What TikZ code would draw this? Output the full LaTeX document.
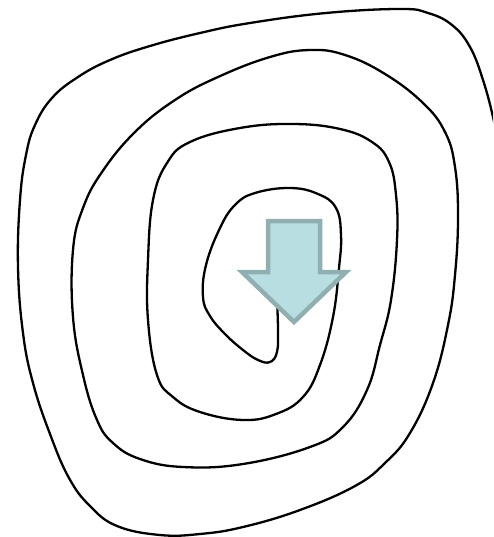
\documentclass[tikz,border=0pt]{standalone}
\definecolor{arrowfill}{HTML}{B9DEE1}
\definecolor{arrowedge}{HTML}{8FAFB1}
\begin{document}
\begin{tikzpicture}[x=1pt,y=-1pt,
  spiralline/.style={line width=2.3pt,line join=round},
  arrowbox/.style={fill=arrowfill,draw=arrowedge,line width=4.5pt,line join=miter}]
  \useasboundingbox (0,0) rectangle (493,537);
  \clip (0,0) rectangle (493,537);
  % spiral, from the inside out
  \draw[spiralline] plot[smooth,tension=0.7] coordinates {
    (277,300) (278,330) (277,352) (270,362) (258,360) (243,350) (225,334)
    (210,316) (203,297) (206,265) (220,228) (235,205) (255,193) (290,188)
    (318,194) (336,208) (341,235) (339,268) (333,317) (320,365) (303,397)
    (276,414) (243,420) (200,412) (173,397) (157,375) (148,320) (148,260)
    (153,200) (167,163) (190,142) (240,128) (293,124) (340,129) (372,142)
    (389,162) (396,195) (397,240) (391,300) (380,345) (367,390) (343,427)
    (310,447) (243,464) (183,467) (140,459) (113,443) (97,420) (83,375)
    (73,317) (73,250) (83,208) (102,172) (135,132) (175,100) (218,77)
    (270,57) (310,50) (345,55) (385,74) (423,103) (445,132) (455,167)
    (458,217) (455,275) (448,325) (433,383) (410,433) (385,463) (355,486)
    (300,510) (243,527) (200,534) (160,535) (117,526) (90,506) (69,478)
    (50,434) (33,383) (23,333) (18,267) (20,200) (26,155) (35,125)
    (52,98) (78,77) (110,60) (150,46) (200,33) (250,23) (326,13) (400,9)
    (428,13) (452,25) (470,47) (483,80) (493,117) (497,140)};
  % arrow in the middle
  \coordinate (S1) at (268,221);
  \coordinate (S2) at (320,221);
  \draw[arrowbox] (S1) -- (S2) -- (320,272) -- (346,272) -- (294,322)
    -- (242,272) -- (268,272) -- cycle;
\end{tikzpicture}
\end{document}
